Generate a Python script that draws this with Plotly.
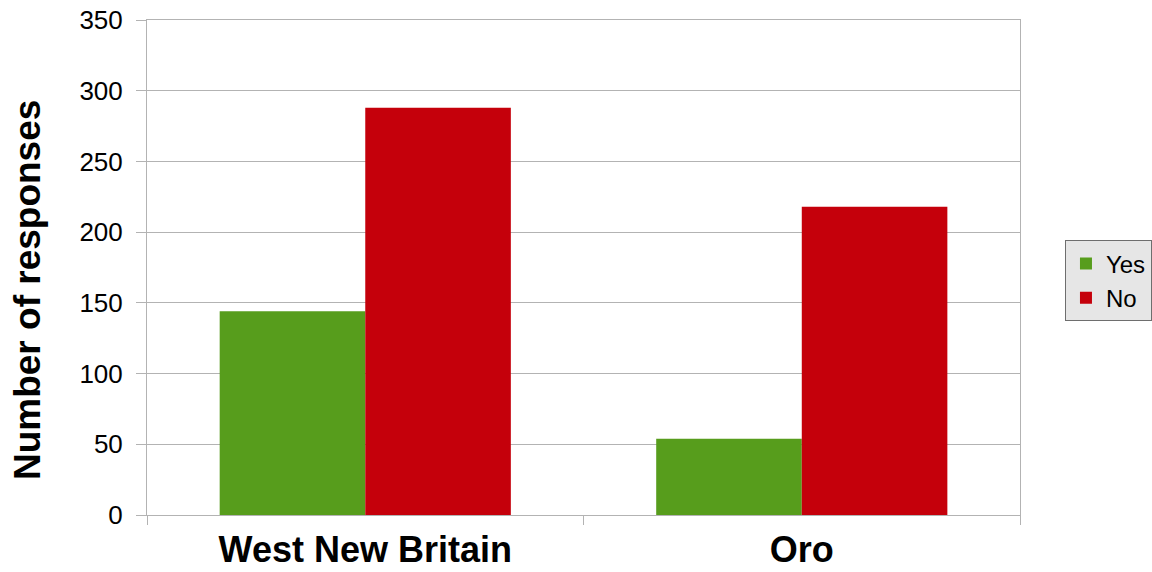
import plotly.graph_objects as go

regions = ["West New Britain", "Oro"]
yes_counts = [144, 54]
no_counts = [288, 218]
y_ticks = [0, 50, 100, 150, 200, 250, 300, 350]

grid = "#b3b3b3"
font_family = "Liberation Sans, Arial, sans-serif"

fig = go.Figure()
fig.add_trace(go.Bar(name="Yes", x=regions, y=yes_counts, marker_color="#579d1c",
                     marker_line_width=0))
fig.add_trace(go.Bar(name="No", x=regions, y=no_counts, marker_color="#c5000b",
                     marker_line_width=0))

# Plot frame spans pixels 147..1020 horizontally; the legend sits to its right.
fig.update_layout(
    width=1152, height=572,
    margin=dict(l=147, r=0, t=20, b=57, autoexpand=False),
    barmode="group", bargap=0.333, bargroupgap=0,
    plot_bgcolor="white", paper_bgcolor="white",
    font=dict(family=font_family, color="black"),
    showlegend=True,
    legend=dict(
        x=0.9134, y=0.473, xanchor="left", yanchor="middle",
        bgcolor="#e6e6e6", bordercolor="#6e6e6e", borderwidth=1,
        font=dict(size=24, family=font_family),
        itemwidth=30, tracegroupgap=0,
    ),
    annotations=[dict(
        text="<b>Number of responses</b>", textangle=-90,
        xref="paper", yref="paper", x=-0.1194, y=0.4545,
        xanchor="center", yanchor="middle", showarrow=False,
        font=dict(size=37, family=font_family, color="black"),
    )],
)

fig.update_xaxes(
    domain=[0, 0.8687],
    showgrid=False,
    tickson="boundaries", ticks="outside", ticklen=9, tickcolor=grid, tickwidth=1,
    showline=True, linecolor=grid, linewidth=1, mirror=True,
    tickfont=dict(size=36, family=font_family, color="black"),
    tickprefix="<b>", ticksuffix="</b>", ticklabelstandoff=3,
)
fig.update_yaxes(
    range=[0, 350], tickvals=y_ticks,
    showgrid=True, gridcolor=grid, gridwidth=1,
    ticks="outside", ticklen=10, tickcolor=grid, tickwidth=1,
    showline=True, linecolor=grid, linewidth=1, mirror=True,
    zeroline=False,
    tickfont=dict(size=26, family=font_family, color="black"),
    ticklabelstandoff=8,
)

fig.write_html("out.html")
